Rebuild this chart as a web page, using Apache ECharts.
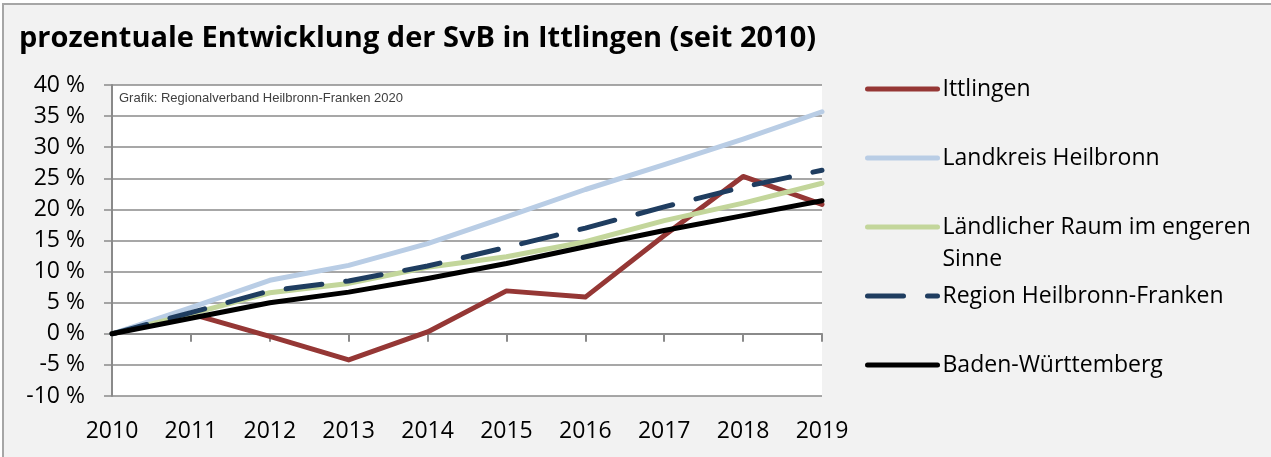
<!DOCTYPE html>
<html>
<head>
<meta charset="utf-8">
<script src="https://cdn.jsdelivr.net/npm/echarts@6/dist/echarts.min.js"></script>
<style>
  html, body { margin: 0; padding: 0; background: #fff; }
  #frame {
    position: absolute; left: 2px; top: 3px; width: 1269px; height: 454px;
    background: #f2f2f2;
    border-top: 2px solid #a6a6a6; border-left: 2px solid #a6a6a6;
    box-sizing: border-box;
  }
  #chart { position: absolute; left: 0; top: 0; width: 1271px; height: 457px; }
</style>
</head>
<body>
<div id="frame"></div>
<div id="chart"></div>
<script>
var years = ['2010', '2011', '2012', '2013', '2014', '2015', '2016', '2017', '2018', '2019'];
var seriesNames = ['Ittlingen', 'Landkreis Heilbronn', 'Ländlicher Raum im engeren Sinne', 'Region Heilbronn-Franken', 'Baden-Württemberg'];
var ittlingen = [0, 3.2, -0.4, -4.2, 0.3, 6.9, 5.9, 15.8, 25.3, 20.8];
var landkreis = [0, 4.2, 8.6, 11.0, 14.5, 18.8, 23.2, 27.2, 31.3, 35.7];
var laendlich = [0, 3.2, 6.6, 8.1, 10.7, 12.4, 14.8, 18.2, 21.0, 24.2];
var region = [0, 3.4, 6.9, 8.5, 10.9, 13.9, 17.0, 20.4, 23.6, 26.3];
var bw = [0, 2.5, 5.0, 6.7, 8.9, 11.3, 14.0, 16.6, 19.0, 21.4];

var colors = ['#953735', '#b9cde5', '#c3d69b', '#1f3d60', '#000000'];
var font = '"Open Sans", "Noto Sans", sans-serif';
var gridColor = '#8a8a8a';

var chart = echarts.init(document.getElementById('chart'));

// eine Legende je Eintrag, damit die Abstände gleich bleiben
var legendCenters = [89, 158, 227, 296, 365];
var legends = seriesNames.map(function (name, i) {
  return {
    data: [name],
    left: 865,
    top: legendCenters[i] - (i === 2 ? 48 : 16),
    orient: 'vertical',
    padding: 0,
    itemWidth: 70,
    itemHeight: 10,
    selectedMode: false,
    itemStyle: { opacity: 0 },
    lineStyle: { width: 5, cap: 'round' },
    formatter: function (n) {
      return n === seriesNames[2] ? '\nLändlicher Raum im engeren\nSinne' : n;
    },
    textStyle: { fontFamily: font, fontSize: 23, color: '#000', lineHeight: 32 }
  };
});

function lineSeries(name, data, color, type) {
  return {
    name: name,
    type: 'line',
    data: data,
    symbol: 'none',
    color: color,
    lineStyle: { width: 5, color: color, type: type || 'solid', cap: 'round', join: 'round' },
    z: 3
  };
}

var option = {
  animation: false,
  backgroundColor: 'transparent',
  title: [
    {
      text: 'prozentuale Entwicklung der SvB in Ittlingen (seit 2010)',
      left: 19, top: 24, padding: 0,
      textStyle: { fontFamily: font, fontSize: 29, fontWeight: 'bold', color: '#000' }
    },
    {
      text: 'Grafik: Regionalverband Heilbronn-Franken 2020',
      left: 119, top: 92, padding: 0,
      textStyle: { fontFamily: '"Liberation Sans", Arial, sans-serif', fontSize: 13, fontWeight: 'normal', color: '#404040' }
    }
  ],
  legend: legends,
  grid: { left: 112, right: 449, top: 85, bottom: 61, backgroundColor: '#fff', show: true, borderWidth: 0 },
  xAxis: [
    {
      type: 'category',
      data: years,
      boundaryGap: false,
      position: 'bottom',
      axisLine: { show: false, onZero: false },
      axisTick: { show: false },
      axisLabel: { margin: 24, fontFamily: font, fontSize: 23, color: '#000' },
      splitLine: { show: false }
    },
    {
      type: 'category',
      data: years,
      boundaryGap: false,
      position: 'bottom',
      axisLine: { show: true, onZero: true, lineStyle: { color: gridColor, width: 2 } },
      axisTick: { show: true, length: 8, alignWithLabel: true, lineStyle: { color: gridColor, width: 2 } },
      axisLabel: { show: false },
      splitLine: { show: false }
    }
  ],
  yAxis: {
    type: 'value',
    min: -10, max: 40, interval: 5,
    axisLine: { show: true, lineStyle: { color: gridColor, width: 2 } },
    axisTick: { show: true, length: 8, lineStyle: { color: gridColor, width: 1.5 } },
    axisLabel: { margin: 27, fontFamily: font, fontSize: 23, color: '#000', formatter: '{value} %' },
    splitLine: { show: true, lineStyle: { color: gridColor, width: 1.5 } }
  },
  series: [
    lineSeries(seriesNames[0], ittlingen, colors[0]),
    lineSeries(seriesNames[1], landkreis, colors[1]),
    lineSeries(seriesNames[2], laendlich, colors[2]),
    lineSeries(seriesNames[3], region, colors[3], [36, 24]),
    lineSeries(seriesNames[4], bw, colors[4])
  ]
};

chart.setOption(option);
</script>
</body>
</html>
